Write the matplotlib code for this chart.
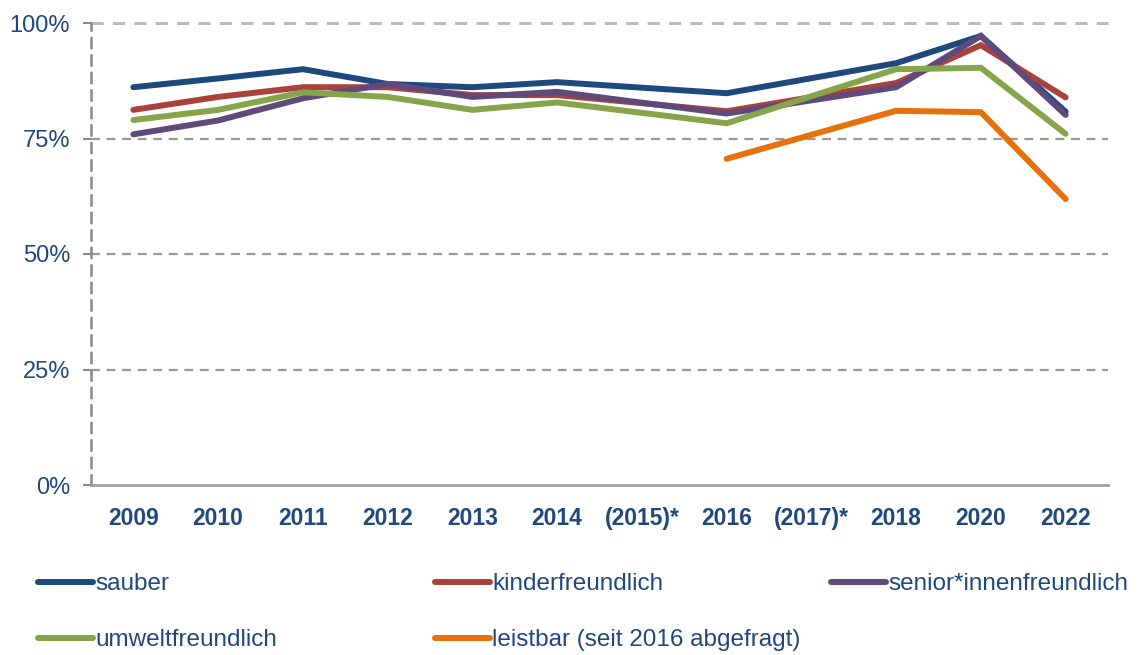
import numpy as np
import matplotlib.pyplot as plt
from matplotlib.lines import Line2D

plt.rcParams['font.family'] = ['Liberation Sans', 'DejaVu Sans']

years = ['2009', '2010', '2011', '2012', '2013', '2014', '(2015)*', '2016',
         '(2017)*', '2018', '2020', '2022']
nan = np.nan
sauber = [86.1, 88.0, 90.0, 86.8, 86.1, 87.2, nan, 84.8, nan, 91.3, 97.2, 80.8]
kinder = [81.2, 84.0, 86.1, 86.1, 84.4, 84.4, nan, 80.9, nan, 87.0, 95.2, 83.9]
senior = [75.9, 78.9, 83.7, 86.8, 84.0, 85.1, nan, 80.4, nan, 86.1, 97.2, 80.1]
umwelt = [79.0, 81.2, 85.0, 84.0, 81.2, 82.8, nan, 78.3, nan, 90.0, 90.3, 76.0]
leistbar = [nan, nan, nan, nan, nan, nan, nan, 70.6, nan, 81.0, 80.7, 61.9]

series = [
    ('sauber', sauber, '#1f497d'),
    ('kinderfreundlich', kinder, '#a9413c'),
    ('senior*innenfreundlich', senior, '#5f4a7b'),
    ('umweltfreundlich', umwelt, '#86a44a'),
    ('leistbar (seit 2016 abgefragt)', leistbar, '#e8700a'),
]
txt_col = '#1f497d'

fig = plt.figure(figsize=(11.4, 6.55), dpi=100)
ax = fig.add_axes([91/1140, 1-485/655, (1108-91)/1140, (485-23)/655])

x = np.arange(len(years))
for name, vals, col in series:
    v = np.array(vals, dtype=float)
    m = ~np.isnan(v)
    ax.plot(x[m], v[m], color=col, lw=4.3, solid_capstyle='round',
            solid_joinstyle='miter')

ax.set_xlim(-0.5, len(years) - 0.5)
ax.set_ylim(0, 100)
ax.set_xticks(x)
ax.set_xticklabels(years, fontsize=16.5, fontweight='bold', color=txt_col)
ax.set_yticks([0, 25, 50, 75, 100])
ax.set_yticklabels(['0%', '25%', '50%', '75%', '100%'], fontsize=17, color=txt_col)
ax.tick_params(axis='x', length=0, pad=16)
ax.tick_params(axis='y', length=6, width=1.5, color='#888888', pad=9)

for yv in [25, 50, 75]:
    ax.axhline(yv, color='#999999', lw=1.6, ls=(0, (4, 3)), zorder=0)
ax.axhline(100, color='#bbbbbb', lw=2.2, ls=(0, (4, 3)), zorder=0, clip_on=False)

for s in ['top', 'right']:
    ax.spines[s].set_visible(False)
ax.spines['left'].set_color('#888888')
ax.spines['left'].set_linewidth(1.8)
ax.spines['left'].set_linestyle((0, (4, 3)))
ax.spines['bottom'].set_color('#a0a0a0')
ax.spines['bottom'].set_linewidth(2)

# legend laid out in a fixed grid like the original
cols = [[0, 3], [1, 4], [2]]
col_x = [38/1140, 435/1140, 831/1140]
for ci, idxs in enumerate(cols):
    handles = [Line2D([], [], color=series[i][2], lw=4.3, solid_capstyle='round')
               for i in idxs]
    labels = [series[i][0] for i in idxs]
    leg = fig.legend(handles, labels, loc='upper left',
                     bbox_to_anchor=(col_x[ci], 1-573/655), frameon=False,
                     fontsize=17.5, handlelength=2.25, handletextpad=0.1,
                     labelspacing=1.4, borderaxespad=0, borderpad=0)
    for t in leg.get_texts():
        t.set_color(txt_col)

fig.savefig('out.png', dpi=100)
